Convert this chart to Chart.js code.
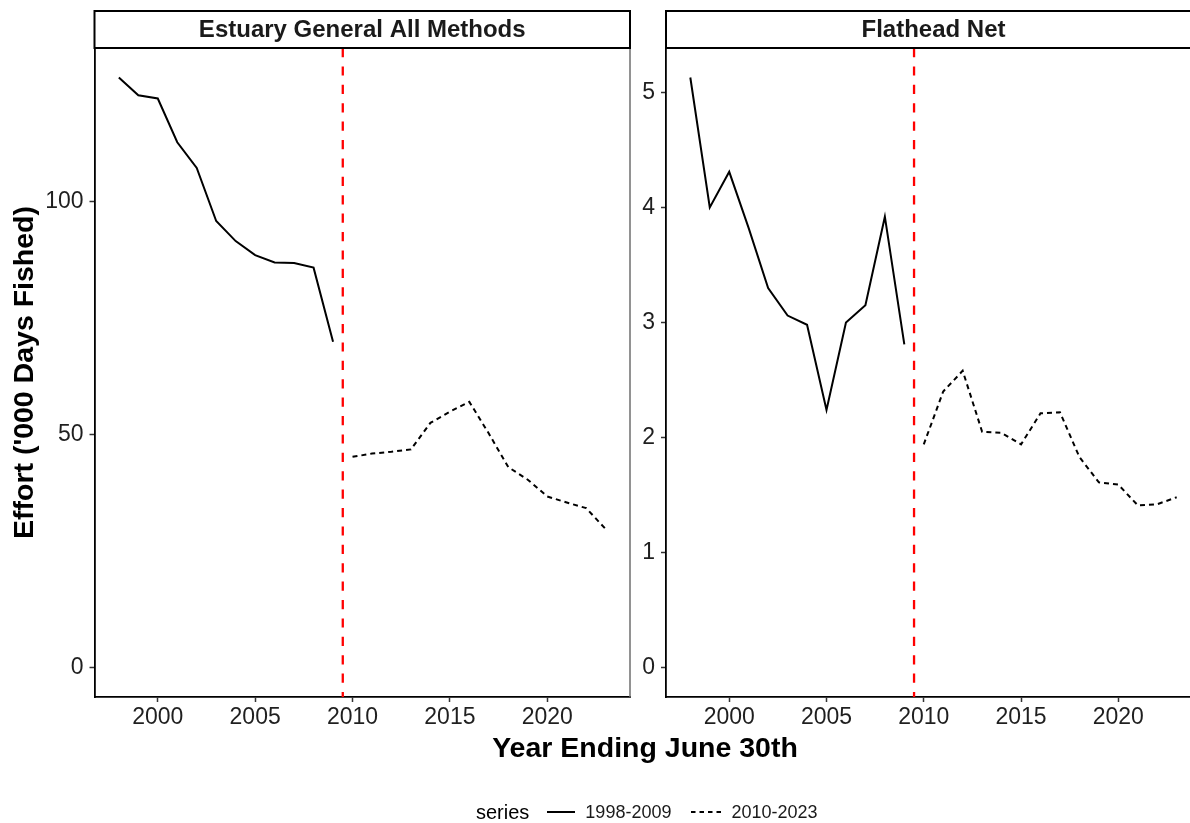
<!DOCTYPE html>
<html>
<head>
<meta charset="utf-8">
<title>Fishing effort by year</title>
<script src="https://cdn.jsdelivr.net/npm/chart.js@4.4.1/dist/chart.umd.min.js"></script>
<style>
  html, body { margin: 0; padding: 0; overflow: hidden; background: #fff; }
  body { width: 1190px; height: 823px; position: relative; font-family: "Liberation Sans", Arial, sans-serif; }
  canvas { position: absolute; top: 0; }
  #estuary { left: 0; }
  #flathead { left: 620px; }
  .x-title { position: absolute; left: 345px; width: 600px; top: 733px; text-align: center;
             font-weight: bold; font-size: 28.5px; line-height: 28px; color: #000; }
  .legend { position: absolute; left: 476px; top: 800px; height: 24px; display: flex; align-items: center; color: #000; }
  .legend .title { font-size: 20px; margin-right: 18px; }
  .legend .label { font-size: 18px; color: #1a1a1a; }
  .legend svg { display: block; }
</style>
</head>
<body>
<canvas id="estuary" width="645" height="823"></canvas>
<canvas id="flathead" width="600" height="823"></canvas>
<div class="x-title">Year Ending June 30th</div>
<div class="legend">
  <span class="title">series</span>
  <svg width="28" height="10" style="margin-right:10px"><line x1="0" y1="5" x2="28" y2="5" stroke="#000" stroke-width="2"/></svg>
  <span class="label" style="margin-right:20px">1998-2009</span>
  <svg width="30" height="10" style="margin-right:10px"><line x1="0" y1="5" x2="30" y2="5" stroke="#000" stroke-width="2" stroke-dasharray="4.5 4"/></svg>
  <span class="label">2010-2023</span>
</div>
<script>
// years on the two sides of the series break
const earlyYears = [1998, 1999, 2000, 2001, 2002, 2003, 2004, 2005, 2006, 2007, 2008, 2009];
const lateYears = [2010, 2011, 2012, 2013, 2014, 2015, 2016, 2017, 2018, 2019, 2020, 2021, 2022, 2023];

// effort, '000 days fished
const estuaryEarly = [126.6, 122.8, 122.1, 112.7, 107.2, 95.8, 91.5, 88.5, 86.9, 86.8, 85.8, 69.9];
const estuaryLate = [45.2, 45.9, 46.3, 46.8, 52.5, 54.9, 57.0, 50.2, 43.0, 40.3, 36.7, 35.4, 34.2, 29.7];
const flatheadEarly = [5.13, 4.00, 4.31, 3.82, 3.30, 3.06, 2.98, 2.24, 3.00, 3.15, 3.92, 2.81];
const flatheadLate = [1.94, 2.40, 2.58, 2.05, 2.04, 1.94, 2.21, 2.22, 1.83, 1.61, 1.59, 1.41, 1.42, 1.48];

const xTicks = [2000, 2005, 2010, 2015, 2020];
const estuaryTicks = [0, 50, 100];
const flatheadTicks = [0, 1, 2, 3, 4, 5];
const CUTOFF_YEAR = 2009.5;

const FONT = '"Liberation Sans", Arial, sans-serif';
Chart.defaults.font.family = FONT;

// ggplot-style 5% expansion around data (and zero)
function paddedRange(values, lo = 0) {
    const min = Math.min(lo, ...values), max = Math.max(...values);
    const pad = (max - min) * 0.05;
    return [min - pad, max + pad];
}

const pts = (xs, ys) => xs.map((x, i) => ({ x, y: ys[i] }));

// facet strip above the panel + grey right edge of the panel
const stripPlugin = {
    id: 'strip',
    afterDraw(chart, args, opts) {
        const { ctx, chartArea: a } = chart;
        ctx.save();
        ctx.strokeStyle = '#6e6e6e';
        ctx.lineWidth = 1.5;
        ctx.beginPath();
        ctx.moveTo(a.right, a.top);
        ctx.lineTo(a.right, a.bottom);
        ctx.stroke();

        ctx.strokeStyle = '#000';
        ctx.lineWidth = 2;
        ctx.strokeRect(a.left, 11, a.right - a.left, a.top - 11);
        ctx.fillStyle = '#1a1a1a';
        ctx.font = 'bold 24px ' + FONT;
        ctx.textAlign = 'center';
        ctx.textBaseline = 'middle';
        ctx.fillText(opts.text, (a.left + a.right) / 2, (11 + a.top) / 2 + 1);
        ctx.restore();
    }
};

// red dashed marker between the two series
const cutoffPlugin = {
    id: 'cutoff',
    beforeDatasetsDraw(chart, args, opts) {
        const { ctx, chartArea: a } = chart;
        const x = chart.scales.x.getPixelForValue(opts.value);
        ctx.save();
        ctx.strokeStyle = '#ff0000';
        ctx.lineWidth = 2.3;
        ctx.setLineDash([9.2, 9.2]);
        ctx.beginPath();
        ctx.moveTo(x, a.top);
        ctx.lineTo(x, a.bottom);
        ctx.stroke();
        ctx.restore();
    }
};

function makePanel(canvasId, cfg) {
    const [yMin, yMax] = paddedRange(cfg.early.concat(cfg.late));
    return new Chart(document.getElementById(canvasId), {
        type: 'line',
        data: {
            datasets: [
                { label: '1998-2009', data: pts(earlyYears, cfg.early), borderColor: '#000', borderWidth: 2, pointRadius: 0, tension: 0 },
                { label: '2010-2023', data: pts(lateYears, cfg.late), borderColor: '#000', borderWidth: 2, borderDash: [5, 4], pointRadius: 0, tension: 0 }
            ]
        },
        options: {
            responsive: false,
            animation: false,
            devicePixelRatio: 1,
            layout: { padding: { top: 48, right: cfg.padRight, left: 0, bottom: 0 } },
            plugins: {
                legend: { display: false },
                tooltip: { enabled: false },
                strip: { text: cfg.strip },
                cutoff: { value: CUTOFF_YEAR }
            },
            scales: {
                x: {
                    type: 'linear',
                    min: 1996.75,
                    max: 2024.25,
                    afterBuildTicks: s => { s.ticks = xTicks.map(v => ({ value: v })); },
                    afterFit: s => { s.height = 126; },
                    grid: { display: true, drawOnChartArea: false, drawTicks: true, tickLength: 5, tickWidth: 1.5, color: '#333' },
                    border: { display: true, color: '#000', width: 1.8 },
                    ticks: { font: { size: 23 }, color: '#1f1f1f', padding: 2, maxRotation: 0, autoSkip: false, callback: v => String(v) }
                },
                y: {
                    type: 'linear',
                    min: yMin,
                    max: yMax,
                    afterBuildTicks: s => { s.ticks = cfg.ticks.map(v => ({ value: v })); },
                    afterFit: s => { s.width = cfg.yWidth; },
                    grid: { display: true, drawOnChartArea: false, drawTicks: true, tickLength: 5, tickWidth: 1.5, color: '#333' },
                    border: { display: true, color: '#000', width: 1.8 },
                    ticks: { font: { size: 23 }, color: '#1f1f1f', padding: 6, autoSkip: false, callback: v => String(v) },
                    title: cfg.yTitle
                        ? { display: true, text: cfg.yTitle, color: '#000', font: { size: 28.5, weight: 'bold' }, padding: { top: 8, bottom: 0 } }
                        : { display: false }
                }
            }
        },
        plugins: [stripPlugin, cutoffPlugin]
    });
}

makePanel('estuary', {
    strip: 'Estuary General All Methods',
    early: estuaryEarly,
    late: estuaryLate,
    ticks: estuaryTicks,
    yWidth: 94.5,
    padRight: 15,
    yTitle: "Effort ('000 Days Fished)"
});

makePanel('flathead', {
    strip: 'Flathead Net',
    early: flatheadEarly,
    late: flatheadLate,
    ticks: flatheadTicks,
    yWidth: 46,
    padRight: 19
});
</script>
</body>
</html>
